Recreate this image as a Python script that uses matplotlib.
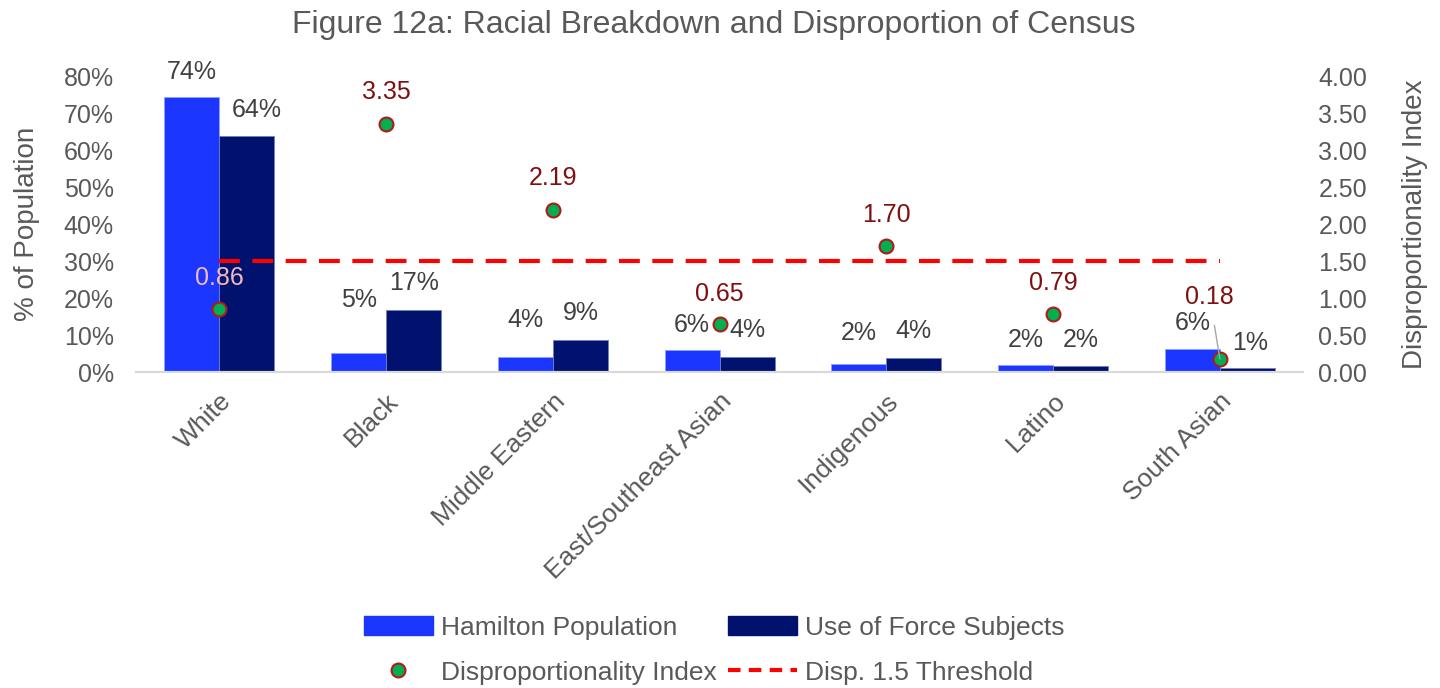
import numpy as np
import matplotlib.pyplot as plt
from matplotlib.lines import Line2D
from matplotlib.patches import Patch

plt.rcParams['font.family'] = ['Liberation Sans', 'DejaVu Sans']

# data
groups = ['White', 'Black', 'Middle Eastern', 'East/Southeast Asian',
          'Indigenous', 'Latino', 'South Asian']
hamilton = [74.3, 5.1, 4.1, 5.9, 2.2, 1.9, 6.2]
force = [63.8, 16.8, 8.6, 4.1, 3.8, 1.6, 1.1]
hamilton_lbl = ['74%', '5%', '4%', '6%', '2%', '2%', '6%']
force_lbl = ['64%', '17%', '9%', '4%', '4%', '2%', '1%']
disp = [0.86, 3.35, 2.19, 0.65, 1.70, 0.79, 0.18]
threshold = 1.5

# label offsets (pixels above the mark), excel placed these by hand
ham_off = [25, 53, 37, 25, 31, 25, 26]
force_off = [26, 27, 27, 27, 27, 26, 25]
force_dx = [10, 0, 0, 0, 0, 0, 3]
disp_off = [31, 32, 32, 30, 31, 31, 62]
disp_dx = [0, 0, 0, 0, 0, 0, -10]

blue = '#1A36FF'
navy = '#00126E'
grey = '#595959'
dark = '#404040'
red_lbl = '#7F1010'
px = 0.72  # pixels -> points at dpi 100

fig = plt.figure(figsize=(14.4, 6.88), dpi=100)
ax = fig.add_axes([0.0945, 0.459, 0.8105, 0.4305])
ax2 = ax.twinx()

x = np.arange(len(groups))
w = 0.33
ax.bar(x - w / 2, hamilton, w, color=blue, edgecolor='#8FA0FF', linewidth=0.6, zorder=2)
ax.bar(x + w / 2, force, w, color=navy, edgecolor='#7080C0', linewidth=0.6, zorder=2)

for i in range(len(groups)):
    ax.annotate(hamilton_lbl[i], (x[i] - w / 2, hamilton[i]), xytext=(0, ham_off[i] * px),
                textcoords='offset points', ha='center', va='center', fontsize=18, color=dark)
    ax.annotate(force_lbl[i], (x[i] + w / 2, force[i]),
                xytext=(force_dx[i] * px, force_off[i] * px),
                textcoords='offset points', ha='center', va='center', fontsize=18, color=dark)

ax.set_ylim(0, 80)
ax.set_xlim(-0.5, len(groups) - 0.5)
ax.set_yticks(np.arange(0, 81, 10))
ax.set_yticklabels([f'{v}%' for v in range(0, 81, 10)])
ax.set_xticks(x)
ax.set_xticklabels(groups, rotation=45, ha='right', rotation_mode='anchor')
ax.tick_params(axis='x', length=0, labelsize=19, labelcolor=grey, pad=12)
ax.tick_params(axis='y', length=0, labelsize=18, labelcolor=grey, pad=16)
ax.set_ylabel('% of Population', fontsize=20, color=grey, labelpad=17)

ax2.set_ylim(0, 4)
ax2.set_yticks(np.arange(0, 4.01, 0.5))
ax2.set_yticklabels([f'{v:.2f}' for v in np.arange(0, 4.01, 0.5)])
ax2.tick_params(axis='y', length=0, labelsize=18, labelcolor=grey, pad=11)
ax2.set_ylabel('Disproportionality Index', fontsize=20, color=grey, labelpad=25)

ax2.plot([x[0], x[-1]], [threshold, threshold], color='#FF0000', lw=3,
         dashes=(5, 3), zorder=3)
ax2.plot(x, disp, 'o', ms=10, mfc='#00B050', mec='#B01A1A', mew=1.5,
         linestyle='none', zorder=4)

for i in range(len(groups)):
    col = '#F4B8B8' if i == 0 else red_lbl
    props = None
    if disp_off[i] > 50:
        props = dict(arrowstyle='-', color='#A6A6A6', lw=1, shrinkA=10, shrinkB=0)
    ax2.annotate(f'{disp[i]:.2f}', (x[i], disp[i]), xytext=(disp_dx[i] * px, disp_off[i] * px),
                 textcoords='offset points', ha='center', va='center', fontsize=18,
                 color=col, arrowprops=props, zorder=5)

for a in (ax, ax2):
    for s in ('top', 'left', 'right'):
        a.spines[s].set_visible(False)
    a.spines['bottom'].set_color('#D9D9D9')
    a.spines['bottom'].set_linewidth(1.5)

fig.suptitle('Figure 12a: Racial Breakdown and Disproportion of Census',
             x=0.496, y=0.985, fontsize=23, color=grey)

handles = [Patch(color=blue), Line2D([], [], marker='o', ms=10, mfc='#00B050', mec='#B01A1A',
                                     mew=1.5, linestyle='none'),
           Patch(color=navy), Line2D([], [], color='#FF0000', lw=3, dashes=(3, 2))]
labels = ['Hamilton Population', 'Disproportionality Index',
          'Use of Force Subjects', 'Disp. 1.5 Threshold']
leg = fig.legend(handles, labels, ncol=2, loc='lower center', bbox_to_anchor=(0.496, -0.03),
                 frameon=False, fontsize=19, handlelength=2.6, handleheight=0.75,
                 columnspacing=0.45, labelspacing=0.8, handletextpad=0.3)
for t in leg.get_texts():
    t.set_color(grey)

fig.savefig('out.png', dpi=100)
